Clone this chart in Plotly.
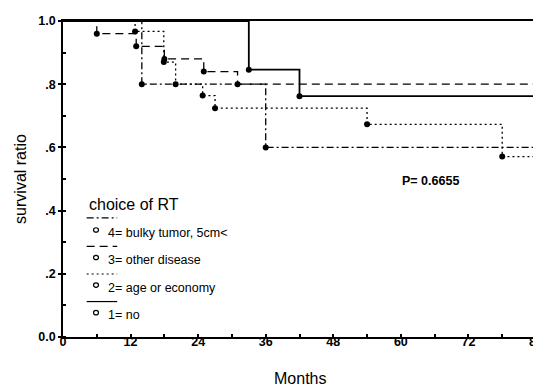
import plotly.graph_objects as go

# ---- data ----
t_end = 84
g1_times = [33, 42]
g1_surv = [0.846, 0.762]
g2_times = [12.8, 17.9, 20, 24.8, 27, 54, 78]
g2_surv = [0.967, 0.87, 0.80, 0.764, 0.724, 0.673, 0.571]
g3_times = [6, 13, 18, 25, 31]
g3_surv = [0.96, 0.92, 0.88, 0.84, 0.80]
g4_times = [14, 36]
g4_surv = [0.80, 0.60]

legend_title = "choice of RT"
legend_labels = ["4= bulky tumor, 5cm<", "3= other disease", "2= age or economy", "1= no"]
p_text = "P= 0.6655"
x_title = "Months"
y_title = "survival ratio"

x_ticks = [0, 12, 24, 36, 48, 60, 72, 84]
y_ticks = [0, 0.2, 0.4, 0.6, 0.8, 1.0]
y_ticklabels = ["0.0", ".2", ".4", ".6", ".8", "1.0"]

W, H = 541, 387
L, R, T, B = 55, 6, 8, 58
FONT = "Liberation Sans, Arial, sans-serif"

fig = go.Figure()

series = [
    (g4_times, g4_surv, "dashdot", 1.3),
    (g3_times, g3_surv, "dash", 1.3),
    (g2_times, g2_surv, "dot", 1.3),
    (g1_times, g1_surv, "solid", 1.8),
]
styles = {"dashdot": "7px,3px,2px,3px", "dash": "8px,5px", "dot": "2px,3px", "solid": "solid"}

for times, surv, dash, w in series:
    xs = [0] + times + [t_end]
    ys = [1.0] + surv + [surv[-1]]
    fig.add_trace(go.Scatter(x=xs, y=ys, mode="lines", line_shape="hv",
                             line=dict(color="black", width=w, dash=styles[dash]),
                             showlegend=False, hoverinfo="skip"))
    fig.add_trace(go.Scatter(x=times, y=surv, mode="markers",
                             marker=dict(color="black", size=6),
                             showlegend=False, hoverinfo="skip"))

pw = W - L - R
ph = H - T - B

def px(xp):
    return (xp - L) / pw

def py(yp):
    return (H - B - yp) / ph

shapes = []
annotations = []
annotations.append(dict(x=px(79), y=py(194), xref="paper", yref="paper", text=legend_title,
                        showarrow=False, xanchor="left", yanchor="middle",
                        font=dict(family=FONT, size=16, color="black")))
line_rows = [208, 237, 265, 293]
text_rows = [223, 251, 279, 307]
for i, (lab, (_, _, dash, w)) in enumerate(zip(legend_labels, series)):
    shapes.append(dict(type="line", xref="paper", yref="paper",
                       x0=px(79), x1=px(110), y0=py(line_rows[i]), y1=py(line_rows[i]),
                       line=dict(color="black", width=1.2, dash=styles[dash])))
    shapes.append(dict(type="circle", xref="paper", yref="paper",
                       x0=px(86), x1=px(91), y0=py(text_rows[i] - 5), y1=py(text_rows[i] - 0.5),
                       line=dict(color="black", width=1.2)))
    annotations.append(dict(x=px(99), y=py(text_rows[i]), xref="paper", yref="paper", text=lab,
                            showarrow=False, xanchor="left", yanchor="middle",
                            font=dict(family=FONT, size=12.5, color="black")))

annotations.append(dict(x=px(397), y=py(171), xref="paper", yref="paper", text="<b>" + p_text + "</b>",
                        showarrow=False, xanchor="left", yanchor="middle",
                        font=dict(family=FONT, size=12.5, color="black")))
annotations.append(dict(x=px(295), y=py(371), xref="paper", yref="paper", text=x_title,
                        showarrow=False, xanchor="center", yanchor="middle",
                        font=dict(family=FONT, size=16, color="black")))

fig.update_layout(
    width=W, height=H,
    margin=dict(l=L, r=R, t=T, b=B),
    paper_bgcolor="white", plot_bgcolor="white",
    font=dict(family=FONT, color="black"),
    shapes=shapes, annotations=annotations,
    showlegend=False,
)
fig.update_xaxes(range=[0, 84], tickvals=x_ticks, ticktext=[str(v) for v in x_ticks],
                 showgrid=False, zeroline=False, showline=True, linecolor="black", linewidth=1.5,
                 mirror=True, ticks="inside", ticklen=3, tickwidth=1.5, tickcolor="black",
                 ticklabelstandoff=-8,
                 minor=dict(dtick=6, ticks="inside", ticklen=3, tickcolor="black"),
                 tickfont=dict(family=FONT, size=12.5, color="black", weight="bold"))
fig.update_yaxes(range=[0, 1.0], tickvals=y_ticks, ticktext=y_ticklabels,
                 showgrid=False, zeroline=False, showline=True, linecolor="black", linewidth=1.5,
                 mirror=True, ticks="outside", ticklen=3, tickwidth=1.5, tickcolor="black",
                 minor=dict(dtick=0.1, ticks="inside", ticklen=3, tickcolor="black"),
                 tickfont=dict(family=FONT, size=12.5, color="black", weight="bold"),
                 title=dict(text=y_title, font=dict(family=FONT, size=16, color="black"), standoff=8))

fig.write_html("out.html")
